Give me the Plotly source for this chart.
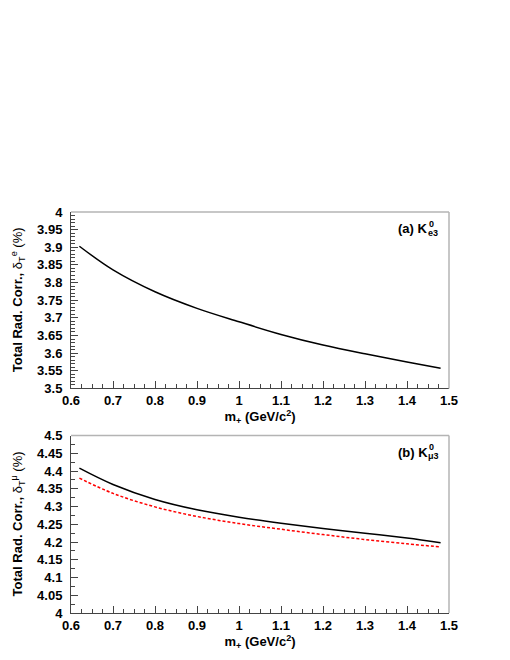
import plotly.graph_objects as go

mass = [0.62, 0.7, 0.8, 0.9, 1.0, 1.1, 1.2, 1.3, 1.4, 1.48]
delta_e = [3.903, 3.836, 3.774, 3.727, 3.689, 3.653, 3.623, 3.598, 3.575, 3.557]

mass_mu = [0.62, 0.7, 0.8, 0.9, 1.0, 1.1, 1.2, 1.3, 1.4, 1.48]
delta_mu = [4.408, 4.362, 4.320, 4.291, 4.270, 4.253, 4.238, 4.225, 4.211, 4.198]
delta_mu_alt = [4.380, 4.337, 4.299, 4.272, 4.252, 4.236, 4.221, 4.207, 4.195, 4.186]

FONT = "Liberation Sans, Arial, sans-serif"

fig = go.Figure()
fig.add_trace(go.Scatter(x=mass, y=delta_e, mode="lines",
                         line=dict(color="black", width=1.5, shape="spline"),
                         xaxis="x", yaxis="y", showlegend=False))
fig.add_trace(go.Scatter(x=mass_mu, y=delta_mu, mode="lines",
                         line=dict(color="black", width=1.5, shape="spline"),
                         xaxis="x2", yaxis="y2", showlegend=False))
fig.add_trace(go.Scatter(x=mass_mu, y=delta_mu_alt, mode="lines",
                         line=dict(color="red", width=1.5, dash="3px,2px", shape="spline"),
                         xaxis="x2", yaxis="y2", showlegend=False))

tickfont = dict(family=FONT, size=13, color="black", weight="bold")

def xax(anchor):
    return dict(range=[0.6, 1.5], dtick=0.1, tick0=0.6, anchor=anchor, domain=[0, 1],
                automargin=False,
                showgrid=False, zeroline=False, showline=True, linecolor="#444", linewidth=1,
                ticks="inside", ticklen=7, tickcolor="#444", tickwidth=1, tickfont=tickfont,
                minor=dict(dtick=0.025, tick0=0.6, ticks="inside", ticklen=4,
                           tickcolor="#444", tickwidth=1, showgrid=False),
                title=dict(text="<b>m<sub>+</sub> (GeV/c<sup>2</sup>)</b>",
                           font=dict(family=FONT, size=13, color="black"), standoff=4))

def yax(anchor, rng, minor_dt, dom):
    return dict(range=rng, dtick=0.05, tick0=rng[0], anchor=anchor, domain=dom,
                automargin=False,
                showgrid=False, zeroline=False, showline=True, linecolor="#444", linewidth=1,
                ticks="inside", ticklen=7, tickcolor="#444", tickwidth=1, tickfont=tickfont,
                ticklabelstandoff=5,
                minor=dict(dtick=minor_dt, tick0=rng[0], ticks="inside", ticklen=4,
                           tickcolor="#444", tickwidth=1, showgrid=False))

fig.update_layout(
    width=502, height=652,
    margin=dict(l=63, r=61, t=204, b=47),
    plot_bgcolor="white", paper_bgcolor="white",
    xaxis=xax("y"),
    yaxis=yax("x", [3.5, 4.0], 0.01, [0.56, 1.0]),
    xaxis2=xax("y2"),
    yaxis2=yax("x2", [4.0, 4.5], 0.025, [0.0, 0.4425]),
)

# light grey top/right frame
shapes = []
for xr, yr in [("x domain", "y domain"), ("x2 domain", "y2 domain")]:
    shapes.append(dict(type="line", xref=xr, yref=yr, x0=0, x1=1, y0=1, y1=1,
                       line=dict(color="#b4b4b4", width=1.5)))
    shapes.append(dict(type="line", xref=xr, yref=yr, x0=1, x1=1, y0=0, y1=1,
                       line=dict(color="#b4b4b4", width=1.5)))
fig.update_layout(shapes=shapes)

ann = []
# y axis titles
for yc, sym in [(0.78, "e"), (0.221, "μ")]:
    ann.append(dict(xref="paper", yref="paper", x=0, y=yc, xshift=-53, xanchor="center", yanchor="middle",
                    textangle=-90, showarrow=False,
                    text="<b>Total Rad. Corr., </b>δ<sub>T</sub><sup>%s</sup> (%%)" % sym,
                    font=dict(family=FONT, size=13, color="black")))
# panel labels
for xr, yr, lab, sub in [("x domain", "y domain", "(a) K", "e3"),
                         ("x2 domain", "y2 domain", "(b) K", "μ3")]:
    ann.append(dict(xref=xr, yref=yr, x=0.95, y=0.905, xanchor="right", yanchor="middle",
                    showarrow=False, text="<b>%s</b>" % lab,
                    font=dict(family=FONT, size=13, color="black")))
    ann.append(dict(xref=xr, yref=yr, x=0.95, y=0.905, xanchor="left", yanchor="middle",
                    xshift=-3, yshift=5, showarrow=False, text="<b>0</b>",
                    font=dict(family=FONT, size=9, color="black")))
    ann.append(dict(xref=xr, yref=yr, x=0.95, y=0.905, xanchor="left", yanchor="middle",
                    xshift=-4, yshift=-4, showarrow=False, text="<b>%s</b>" % sub,
                    font=dict(family=FONT, size=9, color="black")))
fig.update_layout(annotations=ann)

fig.write_html("out.html")
